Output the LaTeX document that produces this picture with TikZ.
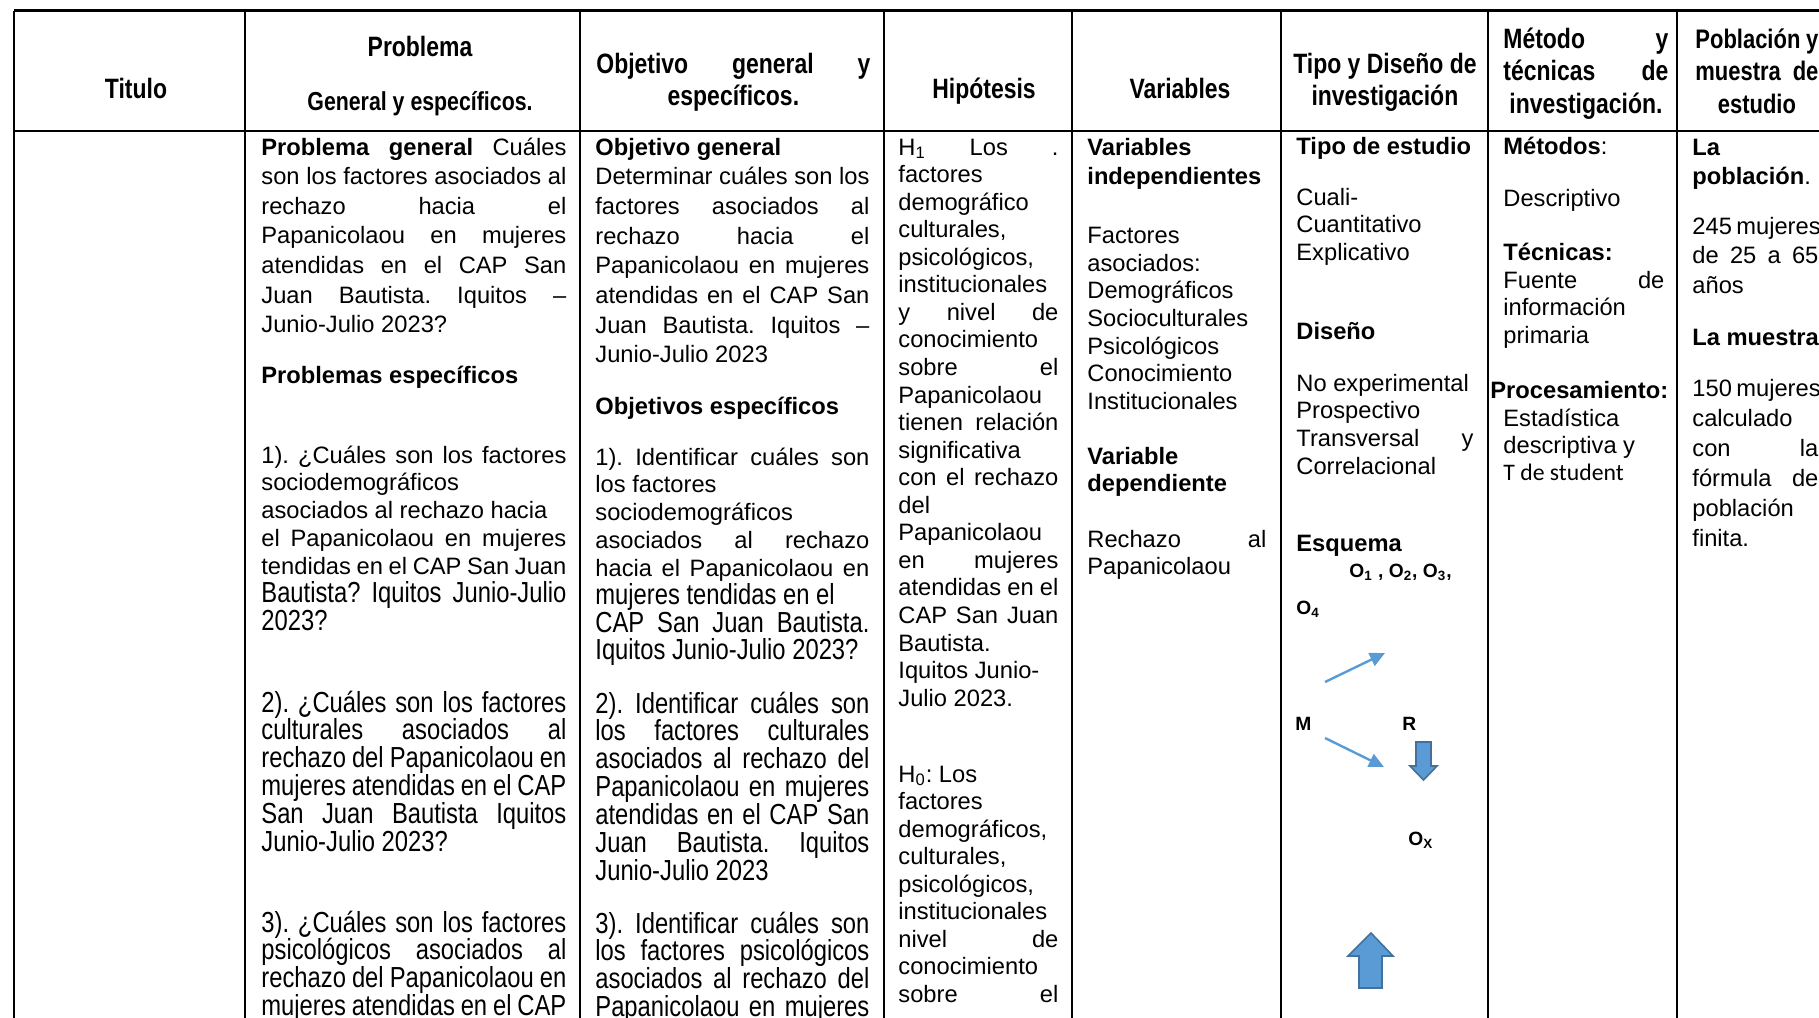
\documentclass[tikz,border=0pt]{standalone}
\usepackage{fontspec}
\setmainfont{Liberation Sans}
\newfontfamily\narrowfont[FakeStretch=0.82]{Liberation Sans}
\newfontfamily\calibrifont{Carlito}
\usepackage{xcolor}
\usetikzlibrary{arrows.meta}
\frenchspacing

\definecolor{schemeblue}{HTML}{5B9BD5}
\definecolor{schemeedge}{HTML}{41719C}

% text cell: width, line distance, lines
\newcommand\cellbox[3]{\vtop{\hsize=#1\baselineskip=#2\lineskiplimit=-50pt\relax #3}}
\newcommand\jl[1]{\hbox to\hsize{#1}}
\newcommand\rl[1]{\hbox to\hsize{#1\hfil}}
\newcommand\cl[1]{\hbox to\hsize{\hss#1\hss}}
\newcommand\nf{\narrowfont\fontsize{14.5}{16}\selectfont}

\begin{document}
\begin{tikzpicture}[x=0.5pt, y=-0.5pt,
			tabline/.style={line width=1.15pt},
			txt/.style={anchor=base west, inner sep=0pt, font=\fontsize{11.85}{14}\selectfont},
			txtb/.style={txt, font=\fontsize{11.85}{14}\selectfont\bfseries},
			head/.style={anchor=base, inner sep=0pt, font=\narrowfont\fontsize{14}{16}\selectfont\bfseries},
			headw/.style={head, anchor=base west},
			sch/.style={anchor=base west, inner sep=0pt, font=\fontsize{9.6}{12}\selectfont\bfseries},
			link/.style={-{Triangle[length=7.5pt,width=7pt]}, schemeblue, line width=1.2pt},
			block/.style={fill=schemeblue, draw=schemeedge, line width=0.8pt},
			]
			\useasboundingbox (0,0) rectangle (1819,1017);
			\clip (0,0) rectangle (1819,1017);
			
			% Table lines
			\draw[tabline] (14,10.5) -- (1850,10.5);
			\draw[tabline] (14,131) -- (1850,131);
			\foreach \cx in {14,245,580,884,1072,1281,1488,1677,1840}
				\draw[tabline] (\cx,10.5) -- (\cx,1030);
			
			% Header
			\node[head] (hTit) at (136,98) {Titulo};
			\node[head] (hProb) at (420,56) {Problema};
			\node[head, font=\narrowfont\fontsize{13}{15}\selectfont\bfseries] (hProbSub) at (420,110) {General y específicos.};
			\node[headw] (hObj) at (596,73) {\cellbox{137pt}{16.25pt}{\jl{Objetivo general y}\cl{específicos.}}};
			\node[head] (hHip) at (984,98) {Hipótesis};
			\node[head] (hVar) at (1180,98) {Variables};
			\node[headw] (hTipo) at (1296,73) {\cellbox{88.5pt}{16.25pt}{\cl{Tipo y Diseño de}\cl{investigación}}};
			\node[headw] (hMet) at (1503,48) {\cellbox{82.5pt}{16.25pt}{\jl{Método y}\jl{técnicas de}\cl{investigación.}}};
			\node[headw, font=\narrowfont\fontsize{13.4}{16}\selectfont\bfseries] (hPob) at (1695,48)
				{\cellbox{61.5pt}{16.25pt}{\jl{Población y}\jl{muestra de}\cl{estudio}}};
			
			% Problema
			\node[txt] (pGen) at (261,155) {\cellbox{152.5pt}{14.8pt}{%
					\jl{\textbf{Problema general} Cuáles}
					\jl{son los factores asociados al}
					\jl{rechazo hacia el}
					\jl{Papanicolaou en mujeres}
					\jl{atendidas en el CAP San}
					\jl{Juan Bautista. Iquitos –}
					\rl{Junio-Julio 2023?}}};
			\node[txtb] (pEsp) at (261,383) {Problemas específicos};
			\node[txt] (pUno) at (261,463) {\cellbox{152.5pt}{13.95pt}{%
					\jl{1). ¿Cuáles son los factores}
					\rl{sociodemográficos}
					\rl{asociados al rechazo hacia}
					\jl{el Papanicolaou en mujeres}
					\jl{tendidas en el CAP San Juan}
					\jl{\nf Bautista? Iquitos Junio-Julio}
					\rl{\nf 2023?}}};
			\node[txt, font=\nf] (pDos) at (261,712) {\cellbox{152.5pt}{13.92pt}{%
					\jl{2). ¿Cuáles son los factores}
					\jl{culturales asociados al}
					\jl{rechazo del Papanicolaou en}
					\jl{mujeres atendidas en el CAP}
					\jl{San Juan Bautista Iquitos}
					\rl{Junio-Julio 2023?}}};
			\node[txt, font=\nf] (pTres) at (261,932) {\cellbox{152.5pt}{13.92pt}{%
					\jl{3). ¿Cuáles son los factores}
					\jl{psicológicos asociados al}
					\jl{rechazo del Papanicolaou en}
					\jl{mujeres atendidas en el CAP}}};
			
			% Objetivos
			\node[txt] (oGen) at (595,155) {\cellbox{137pt}{14.85pt}{%
					\rl{\textbf{Objetivo general}}
					\jl{Determinar cuáles son los}
					\jl{factores asociados al}
					\jl{rechazo hacia el}
					\jl{Papanicolaou en mujeres}
					\jl{atendidas en el CAP San}
					\jl{Juan Bautista. Iquitos –}
					\rl{Junio-Julio 2023}}};
			\node[txtb] (oEsp) at (595,414) {Objetivos específicos};
			\node[txt] (oUno) at (595,465) {\cellbox{137pt}{13.92pt}{%
					\jl{1). Identificar cuáles son}
					\rl{los factores}
					\rl{sociodemográficos}
					\jl{asociados al rechazo}
					\jl{hacia el Papanicolaou en}
					\rl{\nf mujeres tendidas en el}
					\jl{\nf CAP San Juan Bautista.}
					\rl{\nf Iquitos Junio-Julio 2023?}}};
			\node[txt, font=\nf] (oDos) at (595,713) {\cellbox{137pt}{13.92pt}{%
					\jl{2). Identificar cuáles son}
					\jl{los factores culturales}
					\jl{asociados al rechazo del}
					\jl{Papanicolaou en mujeres}
					\jl{atendidas en el CAP San}
					\jl{Juan Bautista. Iquitos}
					\rl{Junio-Julio 2023}}};
			\node[txt, font=\nf] (oTres) at (595,933) {\cellbox{137pt}{13.92pt}{%
					\jl{3). Identificar cuáles son}
					\jl{los factores psicológicos}
					\jl{asociados al rechazo del}
					\jl{Papanicolaou en mujeres}}};
			
			% Hipotesis
			\node[txt] (hipUno) at (898,155) {\cellbox{80pt}{13.78pt}{%
					\jl{H\textsubscript{1} Los .}
					\rl{factores}
					\rl{demográfico}
					\rl{culturales,}
					\rl{psicológicos,}
					\rl{institucionales}
					\jl{y nivel de}
					\rl{conocimiento}
					\jl{sobre el}
					\rl{Papanicolaou}
					\jl{tienen relación}
					\rl{significativa}
					\jl{con el rechazo}
					\rl{del}
					\rl{Papanicolaou}
					\jl{en mujeres}
					\jl{atendidas en el}
					\jl{CAP San Juan}
					\rl{Bautista.}
					\rl{Iquitos Junio-}
					\rl{Julio 2023.}}};
			\node[txt] (hipCero) at (898,782) {\cellbox{80pt}{13.78pt}{%
					\rl{H\textsubscript{0}: Los}
					\rl{factores}
					\rl{demográficos,}
					\rl{culturales,}
					\rl{psicológicos,}
					\rl{institucionales}
					\jl{nivel de}
					\rl{conocimiento}
					\jl{sobre el}}};
			
			% Variables
			\node[txtb] (vInd) at (1087,155) {\cellbox{89.5pt}{14.8pt}{\rl{Variables}\rl{independientes}}};
			\node[txt] (vFac) at (1087,243.5) {\cellbox{89.5pt}{13.83pt}{%
					\rl{Factores}\rl{asociados:}\rl{Demográficos}\rl{Socioculturales}
					\rl{Psicológicos}\rl{Conocimiento}\rl{Institucionales}}};
			\node[txtb] (vDep) at (1087,464) {\cellbox{89.5pt}{13.9pt}{\rl{Variable}\rl{dependiente}}};
			\node[txt] (vRech) at (1087,547) {\cellbox{89.5pt}{13.5pt}{\jl{Rechazo al}\rl{Papanicolaou}}};
			
			% Tipo y diseno
			\node[txtb] (tEst) at (1296,154) {Tipo de estudio};
			\node[txt] (tCual) at (1296,205) {\cellbox{88.5pt}{13.9pt}{\rl{Cuali-}\rl{Cuantitativo}\rl{Explicativo}}};
			\node[txtb] (tDis) at (1296,339) {Diseño};
			\node[txt] (tNoex) at (1296,391) {\cellbox{88.5pt}{13.9pt}{%
					\rl{No experimental}\rl{Prospectivo}\jl{Transversal y}\rl{Correlacional}}};
			\node[txtb] (tEsq) at (1296,551) {Esquema};
			
			% Esquema
			\node[sch] (obs) at (1349,577) {O\textsubscript{1} , O\textsubscript{2}, O\textsubscript{3},};
			\node[sch] (obsCuatro) at (1296,614) {O\textsubscript{4}};
			\node[sch] (muestra) at (1295,730) {M};
			\node[sch] (rel) at (1402,730) {R};
			\node[sch] (obsX) at (1408,845) {O\textsubscript{X}};
			\coordinate (upS) at (1325,682);
			\coordinate (upE) at (1385,653);
			\coordinate (dnS) at (1325,738);
			\coordinate (dnE) at (1384,767);
			\draw[link] (upS) -- (upE);
			\draw[link] (dnS) -- (dnE);
			\draw[block] (1416,742) -- (1431,742) -- (1431,766) -- (1437,766) -- (1423.5,780)
				-- (1410,766) -- (1416,766) -- cycle;
			\draw[block] (1359,988) -- (1382,988) -- (1382,956) -- (1393,956) -- (1371,933)
				-- (1348,956) -- (1359,956) -- cycle;
			
			% Metodo
			\node[txt] (mMet) at (1503,154) {\textbf{Métodos}:};
			\node[txt] (mDesc) at (1503,206) {Descriptivo};
			\node[txtb] (mTec) at (1503,260) {Técnicas:};
			\node[txt] (mFue) at (1503,288) {\cellbox{80.5pt}{13.75pt}{\jl{Fuente de}\rl{información}\rl{primaria}}};
			\node[txtb] (mProc) at (1490,398) {Procesamiento:};
			\node[txt] (mEst) at (1503,426) {\cellbox{80.5pt}{13.6pt}{%
					\rl{Estadística}\rl{descriptiva y}\rl{\calibrifont T de student}}};
			
			% Poblacion
			\node[txtb] (pobLa) at (1692,155) {\cellbox{63pt}{14.7pt}{\rl{La}\rl{población{\mdseries .}}}};
			\node[txt] (pobNum) at (1692,234) {\cellbox{63pt}{14.8pt}{\rl{245 mujeres}\jl{de 25 a 65}\rl{años}}};
			\node[txtb] (pobMu) at (1692,345.5) {La muestra};
			\node[txt] (pobCal) at (1692,396.5) {\cellbox{63pt}{14.95pt}{%
					\rl{150 mujeres}\rl{calculado}\jl{con la}\jl{fórmula de}\rl{población}\rl{finita.}}};
		\end{tikzpicture}
\end{document}
